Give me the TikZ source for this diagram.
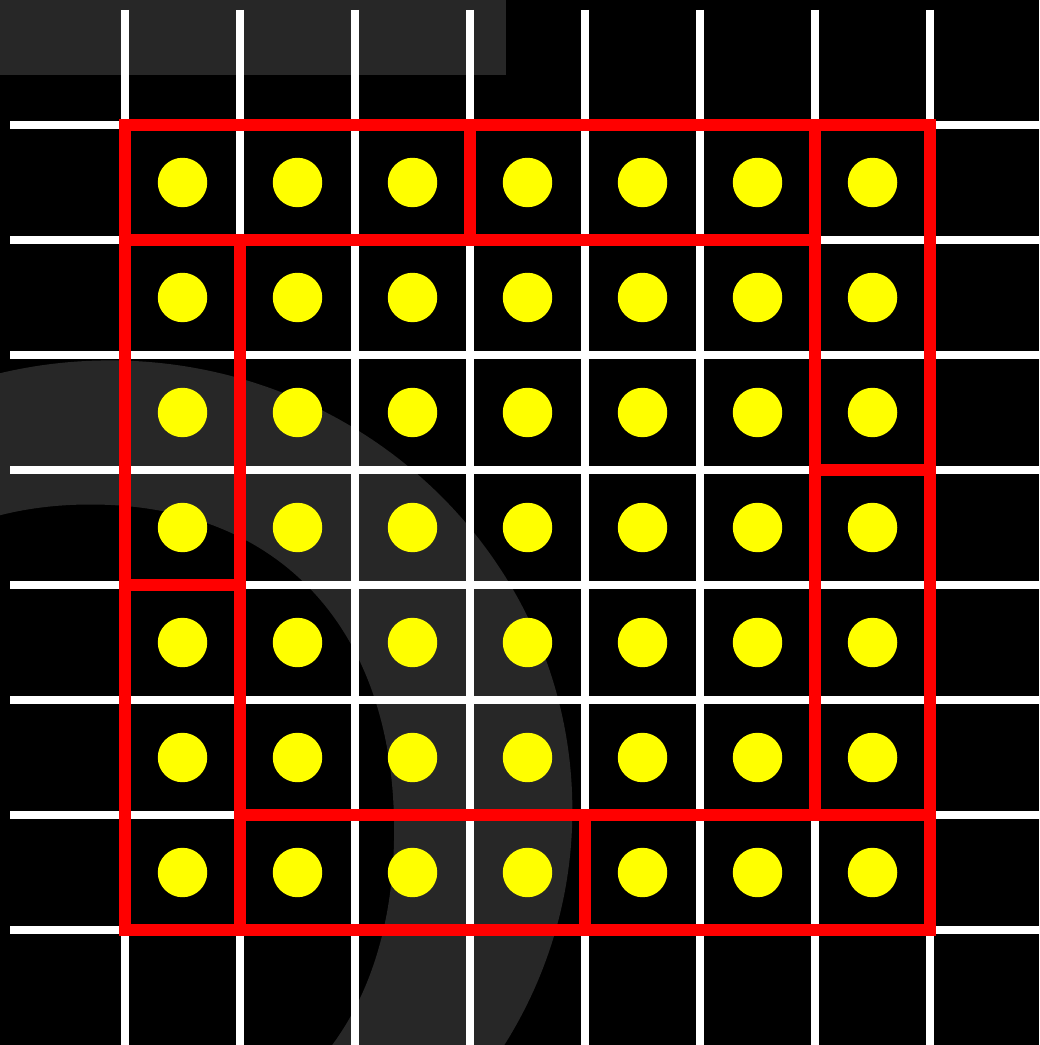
\documentclass[tikz,border=0pt]{standalone}
\usetikzlibrary{positioning}

\definecolor{faint}{RGB}{39,39,39}
\definecolor{wall}{RGB}{255,0,0}
\definecolor{coin}{RGB}{255,255,0}

\tikzset{
  gridline/.style={white, line width=1.9pt},
  wallline/.style={wall, line width=3pt, line cap=rect},
  coindot/.style={circle, fill=coin, inner sep=0pt, minimum size=4.3mm},
}

\begin{document}
\begin{tikzpicture}[x=1cm, y=-1cm]
        % rahmen
        \fill[black] (-1.087,-1.087) rectangle (7.948,8.0);
        \useasboundingbox (-1.087,-1.087) rectangle (7.948,8.0);
        \clip (-1.087,-1.087) rectangle (7.948,8.0);

        % hintergrund
        \fill[faint] (-1.087,-1.087) rectangle (3.313,-0.435);
        \fill[faint, even odd rule] (-0.13,5.957) ellipse [x radius=4.02, y radius=3.91]
            (-0.30,3.30) .. controls (1.34,3.30) and (2.34,4.38) .. (2.34,6.13)
            .. controls (2.34,7.88) and (1.34,8.96) .. (-0.30,8.96)
            .. controls (-1.94,8.96) and (-2.94,7.88) .. (-2.94,6.13)
            .. controls (-2.94,4.38) and (-1.94,3.30) .. (-0.30,3.30) -- cycle;

        % gitter
        \foreach \i in {0,...,7} {
            \draw[gridline] (\i,-1) -- (\i,8.1);
            \draw[gridline] (-1,\i) -- (8.1,\i);
        }

        % bereiche
        \draw[wallline] (0,0) rectangle (7,7);
        \draw[wallline] (0,1) -- (6,1);
        \draw[wallline] (3,0) -- (3,1);
        \draw[wallline] (6,0) -- (6,6);
        \draw[wallline] (6,3) -- (7,3);
        \draw[wallline] (1,1) -- (1,7);
        \draw[wallline] (0,4) -- (1,4);
        \draw[wallline] (1,6) -- (7,6);
        \draw[wallline] (4,6) -- (4,7);

        % punkte
        \foreach \i in {0,...,6} {
            \foreach \j in {0,...,6} {
                \node[coindot] (c\i\j) at (\i+0.5,\j+0.5) {};
            }
        }
    \end{tikzpicture}
\end{document}
